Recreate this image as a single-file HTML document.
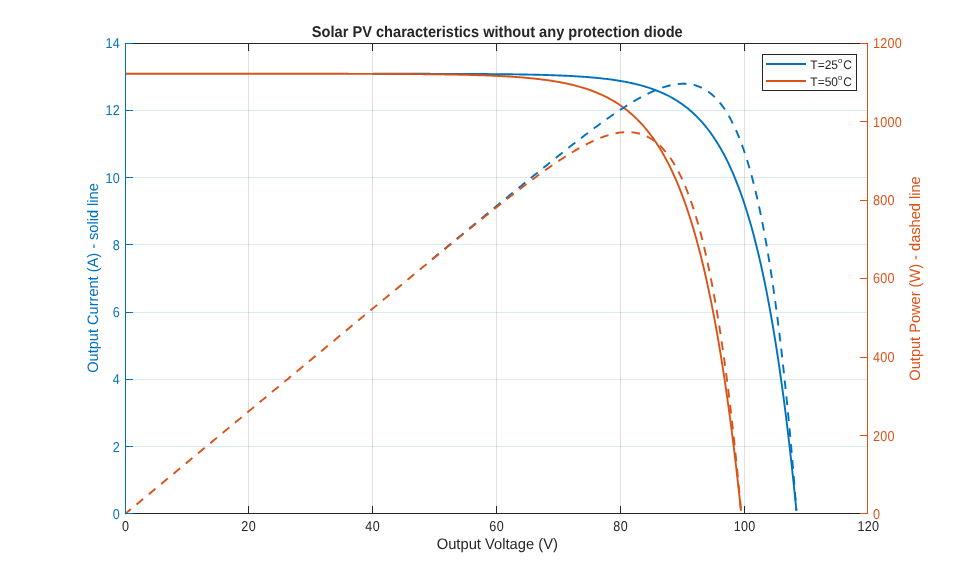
<!DOCTYPE html>
<html><head><meta charset="utf-8"><title>Solar PV characteristics</title>
<style>html,body{margin:0;padding:0;background:#fff;overflow:hidden}</style></head>
<body>
<svg width="959" height="577" viewBox="0 0 959 577" style="display:block">
<rect width="959" height="577" fill="#fff"/>
<g stroke-width="1" shape-rendering="crispEdges">
<line x1="248.5" x2="248.5" y1="43.5" y2="513.5" stroke="#262626" stroke-opacity="0.15"/>
<line x1="372.5" x2="372.5" y1="43.5" y2="513.5" stroke="#262626" stroke-opacity="0.15"/>
<line x1="496.5" x2="496.5" y1="43.5" y2="513.5" stroke="#262626" stroke-opacity="0.15"/>
<line x1="620.5" x2="620.5" y1="43.5" y2="513.5" stroke="#262626" stroke-opacity="0.15"/>
<line x1="744.5" x2="744.5" y1="43.5" y2="513.5" stroke="#262626" stroke-opacity="0.15"/>
<line x1="125.5" x2="867.5" y1="446.5" y2="446.5" stroke="#0072BD" stroke-opacity="0.15"/>
<line x1="125.5" x2="867.5" y1="379.5" y2="379.5" stroke="#0072BD" stroke-opacity="0.15"/>
<line x1="125.5" x2="867.5" y1="312.5" y2="312.5" stroke="#0072BD" stroke-opacity="0.15"/>
<line x1="125.5" x2="867.5" y1="244.5" y2="244.5" stroke="#0072BD" stroke-opacity="0.15"/>
<line x1="125.5" x2="867.5" y1="177.5" y2="177.5" stroke="#0072BD" stroke-opacity="0.15"/>
<line x1="125.5" x2="867.5" y1="110.5" y2="110.5" stroke="#0072BD" stroke-opacity="0.15"/>
</g>
<g fill="none" stroke-width="1.9" stroke-linejoin="round">
<path d="M372.88,73.76 L373.84,73.76 L374.80,73.76 L375.76,73.76 L376.72,73.76 L377.69,73.77 L378.65,73.77 L379.61,73.77 L380.57,73.77 L381.53,73.77 L382.49,73.77 L383.45,73.77 L384.41,73.77 L385.37,73.77 L386.33,73.77 L387.29,73.77 L388.25,73.77 L389.21,73.77 L390.17,73.77 L391.13,73.77 L392.09,73.78 L393.05,73.78 L394.01,73.78 L394.97,73.78 L395.93,73.78 L396.89,73.78 L397.85,73.78 L398.81,73.78 L399.77,73.78 L400.73,73.78 L401.70,73.78 L402.66,73.79 L403.62,73.79 L404.58,73.79 L405.54,73.79 L406.50,73.79 L407.46,73.79 L408.42,73.79 L409.38,73.79 L410.34,73.79 L411.30,73.80 L412.26,73.80 L413.22,73.80 L414.18,73.80 L415.14,73.80 L416.10,73.80 L417.06,73.80 L418.02,73.80 L418.98,73.81 L419.94,73.81 L420.90,73.81 L421.86,73.81 L422.82,73.81 L423.78,73.81 L424.74,73.82 L425.71,73.82 L426.67,73.82 L427.63,73.82 L428.59,73.82 L429.55,73.82 L430.51,73.83 L431.47,73.83 L432.43,73.83 L433.39,73.83 L434.35,73.83 L435.31,73.84 L436.27,73.84 L437.23,73.84 L438.19,73.84 L439.15,73.85 L440.11,73.85 L441.07,73.85 L442.03,73.85 L442.99,73.86 L443.95,73.86 L444.91,73.86 L445.87,73.86 L446.83,73.87 L447.79,73.87 L448.75,73.87 L449.72,73.87 L450.68,73.88 L451.64,73.88 L452.60,73.88 L453.56,73.89 L454.52,73.89 L455.48,73.89 L456.44,73.90 L457.40,73.90 L458.36,73.91 L459.32,73.91 L460.28,73.91 L461.24,73.92 L462.20,73.92 L463.16,73.92 L464.12,73.93 L465.08,73.93 L466.04,73.94 L467.00,73.94 L467.96,73.95 L468.92,73.95 L469.88,73.96 L470.84,73.96 L471.80,73.97 L472.76,73.97 L473.73,73.98 L474.69,73.98 L475.65,73.99 L476.61,73.99 L477.57,74.00 L478.53,74.00 L479.49,74.01 L480.45,74.02 L481.41,74.02 L482.37,74.03 L483.33,74.04 L484.29,74.04 L485.25,74.05 L486.21,74.06 L487.17,74.06 L488.13,74.07 L489.09,74.08 L490.05,74.09 L491.01,74.09 L491.97,74.10 L492.93,74.11 L493.89,74.12 L494.85,74.13 L495.81,74.14 L496.77,74.14 L497.74,74.15 L498.70,74.16 L499.66,74.17 L500.62,74.18 L501.58,74.19 L502.54,74.20 L503.50,74.21 L504.46,74.22 L505.42,74.23 L506.38,74.25 L507.34,74.26 L508.30,74.27 L509.26,74.28 L510.22,74.29 L511.18,74.31 L512.14,74.32 L513.10,74.33 L514.06,74.35 L515.02,74.36 L515.98,74.37 L516.94,74.39 L517.90,74.40 L518.86,74.42 L519.82,74.43 L520.78,74.45 L521.75,74.46 L522.71,74.48 L523.67,74.50 L524.63,74.51 L525.59,74.53 L526.55,74.55 L527.51,74.57 L528.47,74.59 L529.43,74.61 L530.39,74.63 L531.35,74.65 L532.31,74.67 L533.27,74.69 L534.23,74.71 L535.19,74.73 L536.15,74.75 L537.11,74.78 L538.07,74.80 L539.03,74.82 L539.99,74.85 L540.95,74.87 L541.91,74.90 L542.87,74.92 L543.83,74.95 L544.79,74.98 L545.75,75.01 L546.72,75.04 L547.68,75.07 L548.64,75.10 L549.60,75.13 L550.56,75.16 L551.52,75.19 L552.48,75.22 L553.44,75.26 L554.40,75.29 L555.36,75.33 L556.32,75.36 L557.28,75.40 L558.24,75.44 L559.20,75.47 L560.16,75.51 L561.12,75.55 L562.08,75.59 L563.04,75.64 L564.00,75.68 L564.96,75.72 L565.92,75.77 L566.88,75.81 L567.84,75.86 L568.80,75.91 L569.76,75.96 L570.73,76.01 L571.69,76.06 L572.65,76.11 L573.61,76.17 L574.57,76.22 L575.53,76.28 L576.49,76.33 L577.45,76.39 L578.41,76.45 L579.37,76.51 L580.33,76.58 L581.29,76.64 L582.25,76.71 L583.21,76.77 L584.17,76.84 L585.13,76.91 L586.09,76.98 L587.05,77.06 L588.01,77.13 L588.97,77.21 L589.93,77.29 L590.89,77.37 L591.85,77.45 L592.81,77.54 L593.77,77.62 L594.74,77.71 L595.70,77.80 L596.66,77.89 L597.62,77.99 L598.58,78.08 L599.54,78.18 L600.50,78.28 L601.46,78.38 L602.42,78.49 L603.38,78.60 L604.34,78.71 L605.30,78.82 L606.26,78.93 L607.22,79.05 L608.18,79.17 L609.14,79.29 L610.10,79.42 L611.06,79.55 L612.02,79.68 L612.98,79.81 L613.94,79.95 L614.90,80.09 L615.86,80.24 L616.82,80.38 L617.78,80.53 L618.75,80.69 L619.71,80.84 L620.67,81.01 L621.63,81.17 L622.59,81.34 L623.55,81.51 L624.51,81.69 L625.47,81.87 L626.43,82.05 L627.39,82.24 L628.35,82.43 L629.31,82.63 L630.27,82.83 L631.23,83.03 L632.19,83.24 L633.15,83.46 L634.11,83.68 L635.07,83.90 L636.03,84.14 L636.99,84.37 L637.95,84.61 L638.91,84.86 L639.87,85.11 L640.83,85.37 L641.79,85.63 L642.76,85.90 L643.72,86.17 L644.68,86.46 L645.64,86.74 L646.60,87.04 L647.56,87.34 L648.52,87.65 L649.48,87.96 L650.44,88.28 L651.40,88.61 L652.36,88.95 L653.32,89.29 L654.28,89.65 L655.24,90.01 L656.20,90.37 L657.16,90.75 L658.12,91.14 L659.08,91.53 L660.04,91.93 L661.00,92.35 L661.96,92.77 L662.92,93.20 L663.88,93.64 L664.84,94.09 L665.80,94.55 L666.77,95.02 L667.73,95.50 L668.69,95.99 L669.65,96.50 L670.61,97.01 L671.57,97.54 L672.53,98.08 L673.49,98.63 L674.45,99.19 L675.41,99.77 L676.37,100.36 L677.33,100.96 L678.29,101.58 L679.25,102.21 L680.21,102.85 L681.17,103.51 L682.13,104.19 L683.09,104.88 L684.05,105.58 L685.01,106.30 L685.97,107.04 L686.93,107.79 L687.89,108.56 L688.85,109.35 L689.81,110.16 L690.78,110.98 L691.74,111.83 L692.70,112.69 L693.66,113.57 L694.62,114.47 L695.58,115.40 L696.54,116.34 L697.50,117.30 L698.46,118.29 L699.42,119.30 L700.38,120.33 L701.34,121.38 L702.30,122.46 L703.26,123.57 L704.22,124.69 L705.18,125.85 L706.14,127.03 L707.10,128.23 L708.06,129.47 L709.02,130.73 L709.98,132.02 L710.94,133.34 L711.90,134.69 L712.86,136.07 L713.82,137.48 L714.79,138.92 L715.75,140.40 L716.71,141.91 L717.67,143.45 L718.63,145.03 L719.59,146.64 L720.55,148.30 L721.51,149.98 L722.47,151.71 L723.43,153.47 L724.39,155.28 L725.35,157.13 L726.31,159.01 L727.27,160.94 L728.23,162.92 L729.19,164.94 L730.15,167.00 L731.11,169.11 L732.07,171.27 L733.03,173.48 L733.99,175.74 L734.95,178.05 L735.91,180.41 L736.87,182.83 L737.83,185.30 L738.80,187.82 L739.76,190.41 L740.72,193.05 L741.68,195.75 L742.64,198.51 L743.60,201.34 L744.56,204.22 L745.52,207.18 L746.48,210.20 L747.44,213.29 L748.40,216.45 L749.36,219.68 L750.32,222.98 L751.28,226.36 L752.24,229.82 L753.20,233.35 L754.16,236.97 L755.12,240.66 L756.08,244.44 L757.04,248.31 L758.00,252.26 L758.96,256.30 L759.92,260.43 L760.88,264.66 L761.84,268.98 L762.81,273.41 L763.77,277.93 L764.73,282.55 L765.69,287.28 L766.65,292.11 L767.61,297.06 L768.57,302.11 L769.53,307.28 L770.49,312.57 L771.45,317.98 L772.41,323.51 L773.37,329.16 L774.33,334.94 L775.29,340.86 L776.25,346.91 L777.21,353.09 L778.17,359.42 L779.13,365.88 L780.09,372.50 L781.05,379.26 L782.01,386.18 L782.97,393.25 L783.93,400.49 L784.89,407.89 L785.85,415.45 L786.82,423.19 L787.78,431.10 L788.74,439.19 L789.70,447.47 L790.66,455.93 L791.62,464.58 L792.58,473.43 L793.54,482.48 L794.50,491.73 L795.46,501.20 L796.42,510.88" stroke="#0072BD"/>
<path d="M125.10,73.74 L125.98,73.74 L126.86,73.74 L127.74,73.74 L128.62,73.74 L129.51,73.74 L130.39,73.74 L131.27,73.74 L132.15,73.74 L133.03,73.74 L133.91,73.74 L134.79,73.74 L135.67,73.74 L136.55,73.74 L137.44,73.74 L138.32,73.74 L139.20,73.74 L140.08,73.74 L140.96,73.74 L141.84,73.74 L142.72,73.74 L143.60,73.74 L144.48,73.74 L145.37,73.74 L146.25,73.74 L147.13,73.74 L148.01,73.74 L148.89,73.74 L149.77,73.74 L150.65,73.74 L151.53,73.74 L152.41,73.74 L153.30,73.74 L154.18,73.74 L155.06,73.74 L155.94,73.74 L156.82,73.74 L157.70,73.74 L158.58,73.74 L159.46,73.74 L160.34,73.74 L161.23,73.74 L162.11,73.74 L162.99,73.74 L163.87,73.74 L164.75,73.74 L165.63,73.74 L166.51,73.74 L167.39,73.74 L168.27,73.74 L169.16,73.74 L170.04,73.74 L170.92,73.74 L171.80,73.74 L172.68,73.74 L173.56,73.74 L174.44,73.74 L175.32,73.74 L176.20,73.74 L177.09,73.74 L177.97,73.74 L178.85,73.74 L179.73,73.74 L180.61,73.74 L181.49,73.74 L182.37,73.74 L183.25,73.74 L184.13,73.74 L185.02,73.74 L185.90,73.74 L186.78,73.74 L187.66,73.74 L188.54,73.74 L189.42,73.74 L190.30,73.74 L191.18,73.74 L192.06,73.74 L192.95,73.74 L193.83,73.74 L194.71,73.74 L195.59,73.74 L196.47,73.74 L197.35,73.74 L198.23,73.74 L199.11,73.74 L199.99,73.74 L200.88,73.74 L201.76,73.74 L202.64,73.74 L203.52,73.74 L204.40,73.74 L205.28,73.74 L206.16,73.74 L207.04,73.74 L207.92,73.74 L208.81,73.74 L209.69,73.74 L210.57,73.74 L211.45,73.74 L212.33,73.74 L213.21,73.74 L214.09,73.74 L214.97,73.74 L215.85,73.74 L216.74,73.74 L217.62,73.74 L218.50,73.74 L219.38,73.74 L220.26,73.74 L221.14,73.74 L222.02,73.74 L222.90,73.74 L223.78,73.74 L224.67,73.75 L225.55,73.75 L226.43,73.75 L227.31,73.75 L228.19,73.75 L229.07,73.75 L229.95,73.75 L230.83,73.75 L231.71,73.75 L232.60,73.75 L233.48,73.75 L234.36,73.75 L235.24,73.75 L236.12,73.75 L237.00,73.75 L237.88,73.75 L238.76,73.75 L239.64,73.75 L240.53,73.75 L241.41,73.75 L242.29,73.75 L243.17,73.75 L244.05,73.75 L244.93,73.75 L245.81,73.75 L246.69,73.75 L247.57,73.75 L248.46,73.75 L249.34,73.75 L250.22,73.75 L251.10,73.75 L251.98,73.75 L252.86,73.75 L253.74,73.75 L254.62,73.75 L255.50,73.75 L256.39,73.75 L257.27,73.75 L258.15,73.75 L259.03,73.75 L259.91,73.75 L260.79,73.75 L261.67,73.75 L262.55,73.75 L263.43,73.75 L264.32,73.75 L265.20,73.75 L266.08,73.75 L266.96,73.75 L267.84,73.75 L268.72,73.75 L269.60,73.75 L270.48,73.75 L271.36,73.76 L272.25,73.76 L273.13,73.76 L274.01,73.76 L274.89,73.76 L275.77,73.76 L276.65,73.76 L277.53,73.76 L278.41,73.76 L279.29,73.76 L280.18,73.76 L281.06,73.76 L281.94,73.76 L282.82,73.76 L283.70,73.76 L284.58,73.76 L285.46,73.76 L286.34,73.76 L287.22,73.76 L288.11,73.76 L288.99,73.76 L289.87,73.76 L290.75,73.76 L291.63,73.76 L292.51,73.76 L293.39,73.76 L294.27,73.77 L295.15,73.77 L296.04,73.77 L296.92,73.77 L297.80,73.77 L298.68,73.77 L299.56,73.77 L300.44,73.77 L301.32,73.77 L302.20,73.77 L303.08,73.77 L303.97,73.77 L304.85,73.77 L305.73,73.77 L306.61,73.77 L307.49,73.77 L308.37,73.77 L309.25,73.78 L310.13,73.78 L311.01,73.78 L311.90,73.78 L312.78,73.78 L313.66,73.78 L314.54,73.78 L315.42,73.78 L316.30,73.78 L317.18,73.78 L318.06,73.78 L318.94,73.78 L319.83,73.78 L320.71,73.79 L321.59,73.79 L322.47,73.79 L323.35,73.79 L324.23,73.79 L325.11,73.79 L325.99,73.79 L326.87,73.79 L327.76,73.79 L328.64,73.79 L329.52,73.80 L330.40,73.80 L331.28,73.80 L332.16,73.80 L333.04,73.80 L333.92,73.80 L334.80,73.80 L335.69,73.80 L336.57,73.80 L337.45,73.81 L338.33,73.81 L339.21,73.81 L340.09,73.81 L340.97,73.81 L341.85,73.81 L342.73,73.81 L343.62,73.82 L344.50,73.82 L345.38,73.82 L346.26,73.82 L347.14,73.82 L348.02,73.82 L348.90,73.83 L349.78,73.83 L350.66,73.83 L351.55,73.83 L352.43,73.83 L353.31,73.83 L354.19,73.84 L355.07,73.84 L355.95,73.84 L356.83,73.84 L357.71,73.84 L358.59,73.85 L359.48,73.85 L360.36,73.85 L361.24,73.85 L362.12,73.85 L363.00,73.86 L363.88,73.86 L364.76,73.86 L365.64,73.86 L366.52,73.87 L367.41,73.87 L368.29,73.87 L369.17,73.87 L370.05,73.88 L370.93,73.88 L371.81,73.88 L372.69,73.88 L373.57,73.89 L374.45,73.89 L375.34,73.89 L376.22,73.89 L377.10,73.90 L377.98,73.90 L378.86,73.90 L379.74,73.91 L380.62,73.91 L381.50,73.91 L382.38,73.92 L383.27,73.92 L384.15,73.92 L385.03,73.93 L385.91,73.93 L386.79,73.93 L387.67,73.94 L388.55,73.94 L389.43,73.95 L390.31,73.95 L391.20,73.95 L392.08,73.96 L392.96,73.96 L393.84,73.97 L394.72,73.97 L395.60,73.98 L396.48,73.98 L397.36,73.99 L398.24,73.99 L399.13,74.00 L400.01,74.00 L400.89,74.01 L401.77,74.01 L402.65,74.02 L403.53,74.02 L404.41,74.03 L405.29,74.03 L406.17,74.04 L407.06,74.04 L407.94,74.05 L408.82,74.06 L409.70,74.06 L410.58,74.07 L411.46,74.07 L412.34,74.08 L413.22,74.09 L414.11,74.09 L414.99,74.10 L415.87,74.11 L416.75,74.11 L417.63,74.12 L418.51,74.13 L419.39,74.14 L420.27,74.14 L421.15,74.15 L422.04,74.16 L422.92,74.17 L423.80,74.18 L424.68,74.19 L425.56,74.19 L426.44,74.20 L427.32,74.21 L428.20,74.22 L429.08,74.23 L429.97,74.24 L430.85,74.25 L431.73,74.26 L432.61,74.27 L433.49,74.28 L434.37,74.29 L435.25,74.30 L436.13,74.31 L437.01,74.32 L437.90,74.33 L438.78,74.35 L439.66,74.36 L440.54,74.37 L441.42,74.38 L442.30,74.39 L443.18,74.41 L444.06,74.42 L444.94,74.43 L445.83,74.45 L446.71,74.46 L447.59,74.47 L448.47,74.49 L449.35,74.50 L450.23,74.52 L451.11,74.53 L451.99,74.55 L452.87,74.56 L453.76,74.58 L454.64,74.60 L455.52,74.61 L456.40,74.63 L457.28,74.65 L458.16,74.66 L459.04,74.68 L459.92,74.70 L460.80,74.72 L461.69,74.74 L462.57,74.76 L463.45,74.78 L464.33,74.80 L465.21,74.82 L466.09,74.84 L466.97,74.86 L467.85,74.88 L468.73,74.90 L469.62,74.93 L470.50,74.95 L471.38,74.97 L472.26,75.00 L473.14,75.02 L474.02,75.05 L474.90,75.07 L475.78,75.10 L476.66,75.12 L477.55,75.15 L478.43,75.18 L479.31,75.21 L480.19,75.23 L481.07,75.26 L481.95,75.29 L482.83,75.32 L483.71,75.35 L484.59,75.38 L485.48,75.42 L486.36,75.45 L487.24,75.48 L488.12,75.52 L489.00,75.55 L489.88,75.58 L490.76,75.62 L491.64,75.66 L492.52,75.69 L493.41,75.73 L494.29,75.77 L495.17,75.81 L496.05,75.85 L496.93,75.89 L497.81,75.93 L498.69,75.98 L499.57,76.02 L500.45,76.06 L501.34,76.11 L502.22,76.15 L503.10,76.20 L503.98,76.25 L504.86,76.30 L505.74,76.35 L506.62,76.40 L507.50,76.45 L508.38,76.50 L509.27,76.55 L510.15,76.61 L511.03,76.66 L511.91,76.72 L512.79,76.78 L513.67,76.84 L514.55,76.90 L515.43,76.96 L516.31,77.02 L517.20,77.08 L518.08,77.15 L518.96,77.22 L519.84,77.28 L520.72,77.35 L521.60,77.42 L522.48,77.49 L523.36,77.57 L524.24,77.64 L525.13,77.71 L526.01,77.79 L526.89,77.87 L527.77,77.95 L528.65,78.03 L529.53,78.12 L530.41,78.20 L531.29,78.29 L532.17,78.37 L533.06,78.46 L533.94,78.56 L534.82,78.65 L535.70,78.74 L536.58,78.84 L537.46,78.94 L538.34,79.04 L539.22,79.14 L540.10,79.25 L540.99,79.35 L541.87,79.46 L542.75,79.57 L543.63,79.69 L544.51,79.80 L545.39,79.92 L546.27,80.04 L547.15,80.16 L548.03,80.29 L548.92,80.41 L549.80,80.54 L550.68,80.67 L551.56,80.81 L552.44,80.95 L553.32,81.08 L554.20,81.23 L555.08,81.37 L555.96,81.52 L556.85,81.67 L557.73,81.82 L558.61,81.98 L559.49,82.14 L560.37,82.30 L561.25,82.47 L562.13,82.64 L563.01,82.81 L563.89,82.99 L564.78,83.17 L565.66,83.35 L566.54,83.53 L567.42,83.72 L568.30,83.92 L569.18,84.11 L570.06,84.32 L570.94,84.52 L571.82,84.73 L572.71,84.94 L573.59,85.16 L574.47,85.38 L575.35,85.61 L576.23,85.84 L577.11,86.07 L577.99,86.31 L578.87,86.55 L579.75,86.80 L580.64,87.05 L581.52,87.31 L582.40,87.57 L583.28,87.84 L584.16,88.11 L585.04,88.39 L585.92,88.68 L586.80,88.97 L587.68,89.26 L588.57,89.56 L589.45,89.87 L590.33,90.18 L591.21,90.50 L592.09,90.82 L592.97,91.15 L593.85,91.49 L594.73,91.84 L595.61,92.19 L596.50,92.54 L597.38,92.91 L598.26,93.28 L599.14,93.66 L600.02,94.04 L600.90,94.44 L601.78,94.84 L602.66,95.25 L603.54,95.66 L604.43,96.09 L605.31,96.52 L606.19,96.96 L607.07,97.41 L607.95,97.87 L608.83,98.34 L609.71,98.81 L610.59,99.30 L611.47,99.79 L612.36,100.30 L613.24,100.81 L614.12,101.34 L615.00,101.87 L615.88,102.42 L616.76,102.97 L617.64,103.54 L618.52,104.12 L619.40,104.70 L620.29,105.30 L621.17,105.92 L622.05,106.54 L622.93,107.17 L623.81,107.82 L624.69,108.48 L625.57,109.16 L626.45,109.84 L627.33,110.54 L628.22,111.25 L629.10,111.98 L629.98,112.72 L630.86,113.48 L631.74,114.25 L632.62,115.03 L633.50,115.83 L634.38,116.64 L635.26,117.48 L636.15,118.32 L637.03,119.19 L637.91,120.07 L638.79,120.96 L639.67,121.88 L640.55,122.81 L641.43,123.76 L642.31,124.73 L643.19,125.72 L644.08,126.72 L644.96,127.75 L645.84,128.80 L646.72,129.86 L647.60,130.95 L648.48,132.06 L649.36,133.19 L650.24,134.34 L651.12,135.51 L652.01,136.71 L652.89,137.93 L653.77,139.17 L654.65,140.44 L655.53,141.73 L656.41,143.05 L657.29,144.39 L658.17,145.76 L659.05,147.16 L659.94,148.58 L660.82,150.03 L661.70,151.50 L662.58,153.01 L663.46,154.55 L664.34,156.11 L665.22,157.71 L666.10,159.33 L666.98,160.99 L667.87,162.68 L668.75,164.40 L669.63,166.16 L670.51,167.95 L671.39,169.77 L672.27,171.63 L673.15,173.53 L674.03,175.46 L674.91,177.43 L675.80,179.44 L676.68,181.49 L677.56,183.58 L678.44,185.70 L679.32,187.87 L680.20,190.08 L681.08,192.34 L681.96,194.63 L682.84,196.98 L683.73,199.36 L684.61,201.80 L685.49,204.28 L686.37,206.81 L687.25,209.38 L688.13,212.01 L689.01,214.69 L689.89,217.42 L690.77,220.20 L691.66,223.04 L692.54,225.93 L693.42,228.88 L694.30,231.88 L695.18,234.95 L696.06,238.07 L696.94,241.25 L697.82,244.50 L698.70,247.80 L699.59,251.17 L700.47,254.61 L701.35,258.11 L702.23,261.69 L703.11,265.33 L703.99,269.04 L704.87,272.82 L705.75,276.68 L706.63,280.61 L707.52,284.61 L708.40,288.70 L709.28,292.86 L710.16,297.10 L711.04,301.43 L711.92,305.84 L712.80,310.34 L713.68,314.92 L714.56,319.59 L715.45,324.35 L716.33,329.21 L717.21,334.16 L718.09,339.20 L718.97,344.34 L719.85,349.58 L720.73,354.93 L721.61,360.37 L722.49,365.92 L723.38,371.58 L724.26,377.35 L725.14,383.23 L726.02,389.23 L726.90,395.34 L727.78,401.57 L728.66,407.92 L729.54,414.39 L730.42,420.99 L731.31,427.71 L732.19,434.57 L733.07,441.56 L733.95,448.68 L734.83,455.94 L735.71,463.35 L736.59,470.89 L737.47,478.59 L738.35,486.43 L739.24,494.42 L740.12,502.57 L741.00,510.88" stroke="#D95319"/>
<path d="M432.06,259.30 L432.43,258.99 L433.39,258.20 L434.35,257.40 L435.31,256.61 L436.27,255.81 L437.23,255.02 L438.19,254.22 L438.76,253.75 M444.38,249.10 L444.91,248.66 L445.87,247.86 L446.83,247.07 L447.79,246.27 L448.75,245.48 L449.72,244.68 L450.68,243.89 L451.08,243.55 M456.71,238.90 L457.40,238.33 L458.36,237.53 L459.32,236.74 L460.28,235.95 L461.24,235.15 L462.20,234.36 L463.16,233.56 L463.41,233.36 M469.04,228.71 L469.88,228.01 L470.84,227.22 L471.80,226.42 L472.76,225.63 L473.73,224.84 L474.69,224.04 L475.65,223.25 L475.75,223.17 M481.38,218.52 L481.41,218.50 L482.37,217.71 L483.33,216.91 L484.29,216.12 L485.25,215.33 L486.21,214.54 L487.17,213.75 L488.09,212.99 M493.73,208.35 L493.89,208.21 L494.85,207.42 L495.81,206.63 L496.77,205.84 L497.74,205.05 L498.70,204.26 L499.66,203.48 L500.45,202.82 M506.09,198.19 L506.38,197.96 L507.34,197.17 L508.30,196.38 L509.26,195.59 L510.22,194.81 L511.18,194.02 L512.14,193.23 L512.82,192.68 M518.47,188.06 L518.86,187.74 L519.82,186.95 L520.78,186.17 L521.75,185.39 L522.71,184.60 L523.67,183.82 L524.63,183.04 L525.21,182.56 M530.88,177.95 L531.35,177.57 L532.31,176.79 L533.27,176.01 L534.23,175.23 L535.19,174.46 L536.15,173.68 L537.11,172.90 L537.64,172.48 M543.32,167.89 L543.83,167.48 L544.79,166.70 L545.75,165.93 L546.72,165.16 L547.68,164.39 L548.64,163.62 L549.60,162.85 L550.10,162.44 M555.81,157.89 L556.32,157.48 L557.28,156.72 L558.24,155.95 L559.20,155.19 L560.16,154.43 L561.12,153.67 L562.08,152.91 L562.62,152.48 M568.36,147.97 L568.80,147.62 L569.76,146.87 L570.73,146.12 L571.69,145.37 L572.65,144.62 L573.61,143.87 L574.57,143.13 L575.22,142.62 M581.00,138.16 L581.29,137.94 L582.25,137.21 L583.21,136.47 L584.17,135.74 L585.13,135.01 L586.09,134.28 L587.05,133.56 L587.93,132.89 M593.77,128.52 L593.77,128.52 L594.74,127.81 L595.70,127.10 L596.66,126.39 L597.62,125.68 L598.58,124.98 L599.54,124.28 L600.50,123.58 L600.78,123.37 M606.72,119.12 L607.22,118.76 L608.18,118.08 L609.14,117.41 L610.10,116.74 L611.06,116.07 L612.02,115.40 L612.98,114.74 L613.85,114.14 M619.91,110.07 L620.67,109.57 L621.63,108.94 L622.59,108.31 L623.55,107.69 L624.51,107.07 L625.47,106.46 L626.43,105.85 L627.22,105.35 M633.45,101.55 L634.11,101.16 L635.07,100.60 L636.03,100.04 L636.99,99.49 L637.95,98.95 L638.91,98.41 L639.87,97.88 L640.83,97.35 L641.02,97.25 M647.50,93.89 L647.56,93.86 L648.52,93.39 L649.48,92.93 L650.44,92.48 L651.40,92.04 L652.36,91.60 L653.32,91.18 L654.28,90.76 L655.24,90.35 L655.41,90.28 M662.23,87.68 L662.92,87.45 L663.88,87.13 L664.84,86.83 L665.80,86.54 L666.77,86.26 L667.73,86.00 L668.69,85.74 L669.65,85.50 L670.59,85.28 M677.78,84.06 L678.29,84.00 L679.25,83.91 L680.21,83.84 L681.17,83.79 L682.13,83.75 L683.09,83.74 L684.05,83.74 L685.01,83.76 L685.97,83.80 L686.47,83.83 M693.68,84.92 L694.62,85.15 L695.58,85.42 L696.54,85.72 L697.50,86.04 L698.46,86.39 L699.42,86.76 L700.38,87.17 L701.34,87.60 L701.85,87.85 M708.13,91.56 L709.02,92.20 L709.98,92.93 L710.94,93.69 L711.90,94.50 L712.86,95.34 L713.82,96.22 L714.78,97.14 M719.70,102.54 L720.55,103.59 L721.51,104.83 L722.47,106.11 L723.43,107.45 L724.39,108.83 L724.86,109.54 M728.70,115.74 L729.19,116.58 L730.15,118.31 L731.11,120.09 L732.07,121.94 L732.81,123.41 M735.93,130.01 L736.87,132.16 L737.83,134.41 L738.80,136.74 L739.31,138.02 M741.92,144.84 L742.64,146.82 L743.60,149.54 L744.56,152.35 L744.79,153.05 M747.03,160.00 L747.44,161.30 L748.40,164.46 L749.36,167.73 L749.53,168.33 M751.50,175.36 L752.24,178.11 L753.20,181.78 L753.71,183.78 M755.46,190.86 L756.08,193.45 L757.04,197.56 L757.45,199.34 M759.03,206.46 L759.92,210.63 L760.83,214.97 M762.27,222.13 L762.81,224.84 L763.77,229.85 L763.92,230.67 M765.24,237.85 L765.69,240.29 L766.65,245.72 L766.77,246.42 M767.99,253.61 L768.57,257.05 L769.41,262.20 M770.55,269.41 L771.45,275.22 L771.87,278.01 M772.94,285.23 L773.37,288.18 L774.18,293.84 M775.18,301.07 L775.29,301.85 L776.25,308.96 L776.35,309.69 M777.30,316.93 L778.17,323.75 L778.40,325.56 M779.30,332.80 L780.09,339.34 L780.34,341.44 M781.20,348.69 L782.01,355.77 L782.19,357.33 M783.00,364.59 L783.93,373.07 L783.95,373.24 M784.73,380.49 L784.89,382.07 L785.63,389.15 M786.37,396.41 L786.82,400.77 L787.24,405.07 M787.95,412.33 L788.74,420.46 L788.79,420.99 M789.47,428.26 L789.70,430.68 L790.27,436.92 M790.93,444.19 L791.62,451.94 L791.70,452.86 M792.33,460.13 L792.58,462.99 L793.07,468.80 M793.68,476.07 L794.40,484.74 M794.99,492.02 L795.46,497.85 L795.68,500.69 M796.25,507.97 L796.42,510.07" stroke="#0072BD"/>
<path d="M125.10,513.90 L125.98,513.17 L126.86,512.44 L127.74,511.71 L128.62,510.98 L129.51,510.25 L130.39,509.51 L130.87,509.11 M136.49,504.45 L136.55,504.40 L137.44,503.67 L138.32,502.94 L139.20,502.20 L140.08,501.47 L140.96,500.74 L141.84,500.01 L142.72,499.28 L143.19,498.90 M148.80,494.23 L148.89,494.16 L149.77,493.43 L150.65,492.70 L151.53,491.97 L152.41,491.24 L153.30,490.51 L154.18,489.78 L155.06,489.05 L155.50,488.68 M161.12,484.02 L161.23,483.93 L162.11,483.20 L162.99,482.47 L163.87,481.74 L164.75,481.01 L165.63,480.28 L166.51,479.54 L167.39,478.81 L167.81,478.46 M173.43,473.80 L173.56,473.70 L174.44,472.97 L175.32,472.23 L176.20,471.50 L177.09,470.77 L177.97,470.04 L178.85,469.31 L179.73,468.58 L180.13,468.25 M185.75,463.59 L185.90,463.46 L186.78,462.73 L187.66,462.00 L188.54,461.27 L189.42,460.54 L190.30,459.81 L191.18,459.08 L192.06,458.35 L192.44,458.03 M198.06,453.37 L198.23,453.23 L199.11,452.50 L199.99,451.77 L200.88,451.04 L201.76,450.31 L202.64,449.58 L203.52,448.84 L204.40,448.11 L204.76,447.82 M210.38,443.16 L210.57,443.00 L211.45,442.27 L212.33,441.53 L213.21,440.80 L214.09,440.07 L214.97,439.34 L215.85,438.61 L216.74,437.88 L217.07,437.60 M222.69,432.94 L222.90,432.76 L223.78,432.03 L224.67,431.30 L225.55,430.57 L226.43,429.84 L227.31,429.11 L228.19,428.38 L229.07,427.65 L229.39,427.39 M235.00,422.73 L235.24,422.53 L236.12,421.80 L237.00,421.07 L237.88,420.34 L238.76,419.61 L239.64,418.88 L240.53,418.14 L241.41,417.41 L241.70,417.17 M247.32,412.51 L247.57,412.30 L248.46,411.57 L249.34,410.84 L250.22,410.10 L251.10,409.37 L251.98,408.64 L252.86,407.91 L253.74,407.18 L254.01,406.96 M259.63,402.29 L259.91,402.06 L260.79,401.33 L261.67,400.60 L262.55,399.87 L263.43,399.14 L264.32,398.41 L265.20,397.68 L266.08,396.95 L266.33,396.74 M271.95,392.08 L272.25,391.83 L273.13,391.10 L274.01,390.37 L274.89,389.64 L275.77,388.91 L276.65,388.18 L277.53,387.45 L278.41,386.72 L278.64,386.53 M284.26,381.86 L284.58,381.60 L285.46,380.87 L286.34,380.14 L287.22,379.41 L288.11,378.68 L288.99,377.95 L289.87,377.22 L290.75,376.49 L290.96,376.31 M296.58,371.65 L296.92,371.37 L297.80,370.64 L298.68,369.91 L299.56,369.18 L300.44,368.45 L301.32,367.72 L302.20,366.99 L303.08,366.25 L303.28,366.10 M308.89,361.44 L309.25,361.14 L310.13,360.41 L311.01,359.68 L311.90,358.95 L312.78,358.22 L313.66,357.49 L314.54,356.76 L315.42,356.03 L315.59,355.88 M321.21,351.22 L321.59,350.91 L322.47,350.18 L323.35,349.45 L324.23,348.72 L325.11,347.99 L325.99,347.26 L326.87,346.53 L327.76,345.80 L327.91,345.67 M333.53,341.01 L333.92,340.68 L334.80,339.95 L335.69,339.22 L336.57,338.49 L337.45,337.76 L338.33,337.03 L339.21,336.30 L340.09,335.57 L340.23,335.46 M345.85,330.80 L346.26,330.46 L347.14,329.73 L348.02,329.00 L348.90,328.27 L349.78,327.54 L350.66,326.81 L351.55,326.08 L352.43,325.35 L352.55,325.25 M358.17,320.59 L358.59,320.24 L359.48,319.51 L360.36,318.78 L361.24,318.05 L362.12,317.32 L363.00,316.59 L363.88,315.86 L364.76,315.13 L364.87,315.04 M370.49,310.39 L370.93,310.02 L371.81,309.29 L372.69,308.56 L373.57,307.84 L374.45,307.11 L375.34,306.38 L376.22,305.65 L377.10,304.92 L377.19,304.84 M382.82,300.19 L383.27,299.81 L384.15,299.09 L385.03,298.36 L385.91,297.63 L386.79,296.90 L387.67,296.17 L388.55,295.44 L389.43,294.71 L389.52,294.64 M395.15,289.99 L395.60,289.61 L396.48,288.89 L397.36,288.16 L398.24,287.43 L399.13,286.70 L400.01,285.97 L400.89,285.24 L401.77,284.52 L401.85,284.45 M407.48,279.80 L407.94,279.42 L408.82,278.70 L409.70,277.97 L410.58,277.24 L411.46,276.52 L412.34,275.79 L413.22,275.06 L414.11,274.34 L414.19,274.26 M419.83,269.62 L420.27,269.25 L421.15,268.53 L422.04,267.80 L422.92,267.07 L423.80,266.35 L424.68,265.62 L425.56,264.90 L426.44,264.17 L426.54,264.09 M432.18,259.45 L432.61,259.10 L433.49,258.38 L434.37,257.65 L435.25,256.93 L436.13,256.20 L437.01,255.48 L437.90,254.76 L438.78,254.03 L438.90,253.93 M444.55,249.30 L444.94,248.98 L445.83,248.25 L446.71,247.53 L447.59,246.81 L448.47,246.09 L449.35,245.37 L450.23,244.65 L451.11,243.93 L451.28,243.79 M456.93,239.17 L457.28,238.89 L458.16,238.17 L459.04,237.46 L459.92,236.74 L460.80,236.02 L461.69,235.30 L462.57,234.59 L463.45,233.87 L463.68,233.68 M469.35,229.08 L469.62,228.86 L470.50,228.15 L471.38,227.43 L472.26,226.72 L473.14,226.01 L474.02,225.30 L474.90,224.58 L475.78,223.87 L476.11,223.61 M481.80,219.03 L481.95,218.90 L482.83,218.19 L483.71,217.49 L484.59,216.78 L485.48,216.07 L486.36,215.37 L487.24,214.66 L488.12,213.96 L488.58,213.58 M494.29,209.03 L495.17,208.34 L496.05,207.64 L496.93,206.94 L497.81,206.24 L498.69,205.54 L499.57,204.85 L500.45,204.15 L501.11,203.63 M506.85,199.12 L507.50,198.61 L508.38,197.92 L509.27,197.24 L510.15,196.55 L511.03,195.86 L511.91,195.18 L512.79,194.49 L513.67,193.81 L513.72,193.78 M519.50,189.32 L519.84,189.06 L520.72,188.39 L521.60,187.72 L522.48,187.04 L523.36,186.37 L524.24,185.71 L525.13,185.04 L526.01,184.37 L526.42,184.06 M532.27,179.68 L533.06,179.09 L533.94,178.44 L534.82,177.79 L535.70,177.14 L536.58,176.49 L537.46,175.85 L538.34,175.20 L539.22,174.56 L539.27,174.53 M545.20,170.26 L545.39,170.12 L546.27,169.50 L547.15,168.87 L548.03,168.25 L548.92,167.63 L549.80,167.02 L550.68,166.40 L551.56,165.79 L552.32,165.27 M558.36,161.16 L558.61,161.00 L559.49,160.41 L560.37,159.83 L561.25,159.25 L562.13,158.67 L563.01,158.10 L563.89,157.52 L564.78,156.96 L565.64,156.40 M571.84,152.54 L572.71,152.02 L573.59,151.49 L574.47,150.96 L575.35,150.44 L576.23,149.93 L577.11,149.42 L577.99,148.91 L578.87,148.41 L579.34,148.14 M585.76,144.66 L585.92,144.58 L586.80,144.12 L587.68,143.67 L588.57,143.23 L589.45,142.80 L590.33,142.36 L591.21,141.94 L592.09,141.52 L592.97,141.11 L593.57,140.84 M600.29,137.98 L600.90,137.74 L601.78,137.40 L602.66,137.07 L603.54,136.75 L604.43,136.44 L605.31,136.14 L606.19,135.85 L607.07,135.56 L607.95,135.29 L608.50,135.12 M615.58,133.34 L615.88,133.28 L616.76,133.11 L617.64,132.95 L618.52,132.81 L619.40,132.68 L620.29,132.56 L621.17,132.45 L622.05,132.35 L622.93,132.27 L623.81,132.21 L624.20,132.18 M631.49,132.25 L631.74,132.27 L632.62,132.36 L633.50,132.46 L634.38,132.58 L635.26,132.72 L636.15,132.88 L637.03,133.06 L637.91,133.25 L638.79,133.47 L639.67,133.70 L640.03,133.81 M646.85,136.41 L647.60,136.78 L648.48,137.23 L649.36,137.72 L650.24,138.22 L651.12,138.76 L652.01,139.32 L652.89,139.90 L653.77,140.52 L654.28,140.89 M659.87,145.58 L659.94,145.64 L660.82,146.50 L661.70,147.39 L662.58,148.31 L663.46,149.27 L664.34,150.27 L665.22,151.30 L665.78,151.97 M670.17,157.79 L670.51,158.28 L671.39,159.58 L672.27,160.93 L673.15,162.32 L674.03,163.75 L674.85,165.12 M678.38,171.51 L678.44,171.62 L679.32,173.34 L680.20,175.11 L681.08,176.94 L681.96,178.81 L682.20,179.33 M685.13,186.02 L685.49,186.88 L686.37,189.04 L687.25,191.26 L688.13,193.54 L688.34,194.10 M690.84,200.96 L691.66,203.31 L692.54,205.92 L693.42,208.60 L693.61,209.21 M695.79,216.17 L696.06,217.07 L696.94,220.04 L697.82,223.09 L698.23,224.52 M700.16,231.56 L700.47,232.72 L701.35,236.09 L702.23,239.55 L702.34,239.99 M704.07,247.08 L704.87,250.46 L705.75,254.28 L706.04,255.55 M707.62,262.68 L708.40,266.32 L709.28,270.53 L709.41,271.19 M710.86,278.35 L711.04,279.26 L711.92,283.78 L712.51,286.89 M713.85,294.07 L714.56,298.02 L715.38,302.63 M716.62,309.82 L717.21,313.31 L718.05,318.41 M719.21,325.61 L719.85,329.71 L720.54,334.21 M721.63,341.43 L722.49,347.29 L722.89,350.04 M723.91,357.26 L724.26,359.70 L725.10,365.88 M726.07,373.12 L726.90,379.42 L727.20,381.75 M728.12,388.99 L728.66,393.34 L729.19,397.62 M730.06,404.87 L730.42,407.90 L731.08,413.51 M731.92,420.76 L732.19,423.13 L732.89,429.41 M733.69,436.66 L733.95,439.06 L734.62,445.31 M735.38,452.57 L735.71,455.72 L736.27,461.23 M737.01,468.49 L737.47,473.14 L737.87,477.15 M738.57,484.41 L739.24,491.35 L739.40,493.07 M740.08,500.34 L740.12,500.77 L740.87,509.01" stroke="#D95319"/>
</g>
<g stroke-width="1" fill="none" shape-rendering="crispEdges">
<line x1="125.5" x2="867.5" y1="43.5" y2="43.5" stroke="#262626"/>
<line x1="125.5" x2="867.5" y1="513.5" y2="513.5" stroke="#262626"/>
<line x1="125.5" x2="125.5" y1="514.0" y2="506.0" stroke="#262626"/>
<line x1="125.5" x2="125.5" y1="43.0" y2="51.0" stroke="#262626"/>
<line x1="248.5" x2="248.5" y1="514.0" y2="506.0" stroke="#262626"/>
<line x1="248.5" x2="248.5" y1="43.0" y2="51.0" stroke="#262626"/>
<line x1="372.5" x2="372.5" y1="514.0" y2="506.0" stroke="#262626"/>
<line x1="372.5" x2="372.5" y1="43.0" y2="51.0" stroke="#262626"/>
<line x1="496.5" x2="496.5" y1="514.0" y2="506.0" stroke="#262626"/>
<line x1="496.5" x2="496.5" y1="43.0" y2="51.0" stroke="#262626"/>
<line x1="620.5" x2="620.5" y1="514.0" y2="506.0" stroke="#262626"/>
<line x1="620.5" x2="620.5" y1="43.0" y2="51.0" stroke="#262626"/>
<line x1="744.5" x2="744.5" y1="514.0" y2="506.0" stroke="#262626"/>
<line x1="744.5" x2="744.5" y1="43.0" y2="51.0" stroke="#262626"/>
<line x1="867.5" x2="867.5" y1="514.0" y2="506.0" stroke="#262626"/>
<line x1="867.5" x2="867.5" y1="43.0" y2="51.0" stroke="#262626"/>
<line x1="125.5" x2="125.5" y1="43.0" y2="514.0" stroke="#0072BD"/>
<line x1="867.5" x2="867.5" y1="43.0" y2="514.0" stroke="#D95319"/>
<line x1="125.0" x2="133.0" y1="513.5" y2="513.5" stroke="#0072BD"/>
<line x1="125.0" x2="133.0" y1="446.5" y2="446.5" stroke="#0072BD"/>
<line x1="125.0" x2="133.0" y1="379.5" y2="379.5" stroke="#0072BD"/>
<line x1="125.0" x2="133.0" y1="312.5" y2="312.5" stroke="#0072BD"/>
<line x1="125.0" x2="133.0" y1="244.5" y2="244.5" stroke="#0072BD"/>
<line x1="125.0" x2="133.0" y1="177.5" y2="177.5" stroke="#0072BD"/>
<line x1="125.0" x2="133.0" y1="110.5" y2="110.5" stroke="#0072BD"/>
<line x1="125.0" x2="133.0" y1="43.5" y2="43.5" stroke="#0072BD"/>
<line x1="868.0" x2="860.0" y1="513.5" y2="513.5" stroke="#D95319"/>
<line x1="868.0" x2="860.0" y1="435.5" y2="435.5" stroke="#D95319"/>
<line x1="868.0" x2="860.0" y1="357.5" y2="357.5" stroke="#D95319"/>
<line x1="868.0" x2="860.0" y1="278.5" y2="278.5" stroke="#D95319"/>
<line x1="868.0" x2="860.0" y1="200.5" y2="200.5" stroke="#D95319"/>
<line x1="868.0" x2="860.0" y1="121.5" y2="121.5" stroke="#D95319"/>
<line x1="868.0" x2="860.0" y1="43.5" y2="43.5" stroke="#D95319"/>
</g>
<g font-family="'Liberation Sans', Arial, Helvetica, sans-serif" text-rendering="geometricPrecision">
<text transform="translate(125.64,530.90) scale(0.945,1.075)" text-anchor="middle" font-size="13.33px" fill="#262626" letter-spacing="0.3">0</text>
<text transform="translate(248.64,530.90) scale(0.945,1.075)" text-anchor="middle" font-size="13.33px" fill="#262626" letter-spacing="0.3">20</text>
<text transform="translate(372.64,530.90) scale(0.945,1.075)" text-anchor="middle" font-size="13.33px" fill="#262626" letter-spacing="0.3">40</text>
<text transform="translate(496.64,530.90) scale(0.945,1.075)" text-anchor="middle" font-size="13.33px" fill="#262626" letter-spacing="0.3">60</text>
<text transform="translate(620.64,530.90) scale(0.945,1.075)" text-anchor="middle" font-size="13.33px" fill="#262626" letter-spacing="0.3">80</text>
<text transform="translate(744.64,530.90) scale(0.945,1.075)" text-anchor="middle" font-size="13.33px" fill="#262626" letter-spacing="0.3">100</text>
<text transform="translate(868.34,530.90) scale(0.945,1.075)" text-anchor="middle" font-size="13.33px" fill="#262626" letter-spacing="0.3">120</text>
<text transform="translate(120.03,518.90) scale(0.945,1.075)" text-anchor="end" font-size="13.33px" fill="#0072BD" letter-spacing="0.3">0</text>
<text transform="translate(120.03,451.90) scale(0.945,1.075)" text-anchor="end" font-size="13.33px" fill="#0072BD" letter-spacing="0.3">2</text>
<text transform="translate(120.03,383.90) scale(0.945,1.075)" text-anchor="end" font-size="13.33px" fill="#0072BD" letter-spacing="0.3">4</text>
<text transform="translate(120.03,316.90) scale(0.945,1.075)" text-anchor="end" font-size="13.33px" fill="#0072BD" letter-spacing="0.3">6</text>
<text transform="translate(120.03,249.90) scale(0.945,1.075)" text-anchor="end" font-size="13.33px" fill="#0072BD" letter-spacing="0.3">8</text>
<text transform="translate(120.03,182.90) scale(0.945,1.075)" text-anchor="end" font-size="13.33px" fill="#0072BD" letter-spacing="0.3">10</text>
<text transform="translate(120.03,114.90) scale(0.945,1.075)" text-anchor="end" font-size="13.33px" fill="#0072BD" letter-spacing="0.3">12</text>
<text transform="translate(120.03,47.90) scale(0.945,1.075)" text-anchor="end" font-size="13.33px" fill="#0072BD" letter-spacing="0.3">14</text>
<text transform="translate(873.00,518.90) scale(0.945,1.075)" text-anchor="start" font-size="13.33px" fill="#D95319" letter-spacing="0.3">0</text>
<text transform="translate(873.00,440.90) scale(0.945,1.075)" text-anchor="start" font-size="13.33px" fill="#D95319" letter-spacing="0.3">200</text>
<text transform="translate(873.00,361.90) scale(0.945,1.075)" text-anchor="start" font-size="13.33px" fill="#D95319" letter-spacing="0.3">400</text>
<text transform="translate(873.00,282.90) scale(0.945,1.075)" text-anchor="start" font-size="13.33px" fill="#D95319" letter-spacing="0.3">600</text>
<text transform="translate(873.00,204.90) scale(0.945,1.075)" text-anchor="start" font-size="13.33px" fill="#D95319" letter-spacing="0.3">800</text>
<text transform="translate(873.00,126.90) scale(0.945,1.075)" text-anchor="start" font-size="13.33px" fill="#D95319" letter-spacing="0.3">1000</text>
<text transform="translate(873.00,47.90) scale(0.945,1.075)" text-anchor="start" font-size="13.33px" fill="#D95319" letter-spacing="0.3">1200</text>
<text transform="translate(497.30,549.25) scale(1.0055,1.03)" text-anchor="middle" font-size="14.67px" fill="#262626">Output Voltage (V)</text>
<text transform="translate(497.30,37.20) scale(0.9965,1.065)" text-anchor="middle" font-size="14.67px" fill="#262626" font-weight="bold">Solar PV characteristics without any protection diode</text>
<text transform="translate(97.90,278.00) rotate(-90) scale(0.994,1.03)" text-anchor="middle" font-size="14.67px" fill="#0072BD">Output Current (A) - solid line</text>
<text transform="translate(920.20,278.50) rotate(-90) scale(0.995,1.03)" text-anchor="middle" font-size="14.67px" fill="#D95319">Output Power (W) - dashed line</text>
<rect x="762.5" y="54.5" width="94" height="36" fill="#fff" stroke="#262626" stroke-width="1" shape-rendering="crispEdges"/>
<line x1="766" x2="806" y1="64" y2="64" stroke="#0072BD" stroke-width="1.9"/>
<line x1="766" x2="806" y1="81" y2="81" stroke="#D95319" stroke-width="1.9"/>
<text transform="translate(810.3,68.6) scale(1,1.04)" font-size="12px" fill="#262626">T=25<tspan dy="-5.6" font-size="7.5px">o</tspan><tspan dy="5.6" dx="1.2">C</tspan></text>
<text transform="translate(810.3,85.6) scale(1,1.04)" font-size="12px" fill="#262626">T=50<tspan dy="-5.6" font-size="7.5px">o</tspan><tspan dy="5.6" dx="1.2">C</tspan></text>
</g>
</svg>
</body></html>
